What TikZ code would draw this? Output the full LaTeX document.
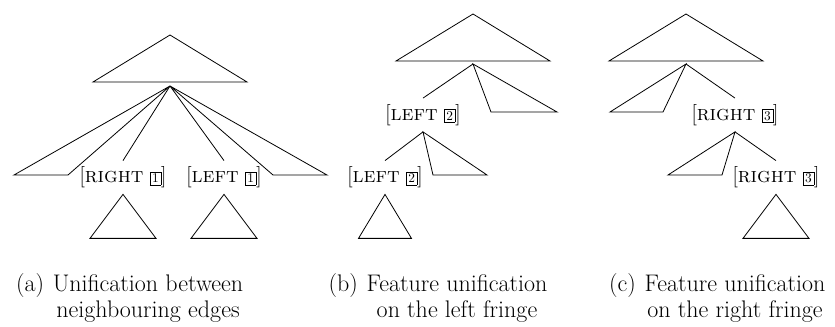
\documentclass[tikz,border=0pt]{standalone}
\usepackage{tikz}
\usetikzlibrary{positioning,calc}
\newcommand{\featbox}[1]{{\setlength{\fboxsep}{1.3pt}\fbox{\fontsize{10}{10}\selectfont #1}}}
\newcommand{\featavm}[2]{[\textsc{#1} \featbox{#2}]}

\begin{document}
\begin{tikzpicture}[x=0.75pt,y=-0.75pt,line width=0.6pt,
  feat/.style={inner sep=0pt,minimum height=24.75pt,font=\fontsize{16}{18}\selectfont},
  capt/.style={inner sep=0pt,align=center,font=\fontsize{18}{20}\selectfont}]

\useasboundingbox (0,0) rectangle (835,327);

% -------- (a) neighbouring edges --------
\draw (170,35) -- (247,82) -- (93,82) -- cycle;
\coordinate (ta) at (170,86);
\node[feat] (ra) at (123,177.5) {\featavm{right}{1}};
\node[feat] (la) at (224,177.5) {\featavm{left}{1}};
\draw (ta) -- (ra.north);
\draw (ta) -- (la.north);
\draw (ta) -- (14,175) -- (68,175) -- cycle;
\draw (ta) -- (327,175) -- (273,175) -- cycle;
\draw (ra.south) -- ++(33,44) -- ++(-66,0) -- cycle;
\draw (la.south) -- ++(33,44) -- ++(-66,0) -- cycle;

% -------- (b) left fringe --------
\draw (473,14) -- (550,61) -- (396,61) -- cycle;
\coordinate (tb) at (473,64);
\node[feat] (lb) at (423,115) {\featavm{left}{2}};
\node[feat] (lbb) at (385,177.5) {\featavm{left}{2}};
\draw (tb) -- (lb.north);
\draw (tb) -- (557,112) -- (491,112) -- cycle;
\draw (lb.south) -- (lbb.north);
\draw (lb.south) -- (487,175) -- (433,175) -- cycle;
\draw (lbb.south) -- ++(26.5,44) -- ++(-53,0) -- cycle;

% -------- (c) right fringe --------
\draw (686,14) -- (763,61) -- (609,61) -- cycle;
\coordinate (tc) at (686,64);
\node[feat] (rc) at (735,115) {\featavm{right}{3}};
\node[feat] (rcc) at (776,177.5) {\featavm{right}{3}};
\draw (tc) -- (rc.north);
\draw (tc) -- (610,112) -- (663,112) -- cycle;
\draw (rc.south) -- (rcc.north);
\draw (rc.south) -- (668,175) -- (722,175) -- cycle;
\draw (rcc.south) -- ++(33,44) -- ++(-66,0) -- cycle;

% -------- captions --------
\node[capt,anchor=north] (capa) at (148,272) {\strut Unification between\\neighbouring edges};
\node[capt,anchor=north east] (laba) at ([xshift=-6pt]capa.north west) {\strut(a)};
\node[capt,anchor=north] (capb) at (457,272) {\strut Feature unification\\on the left fringe};
\node[capt,anchor=north east] (labb) at ([xshift=-6pt]capb.north west) {\strut(b)};
\node[capt,anchor=north] (capc) at (735,272) {\strut Feature unification\\on the right fringe};
\node[capt,anchor=north east] (labc) at ([xshift=-6pt]capc.north west) {\strut(c)};

\end{tikzpicture}
\end{document}
